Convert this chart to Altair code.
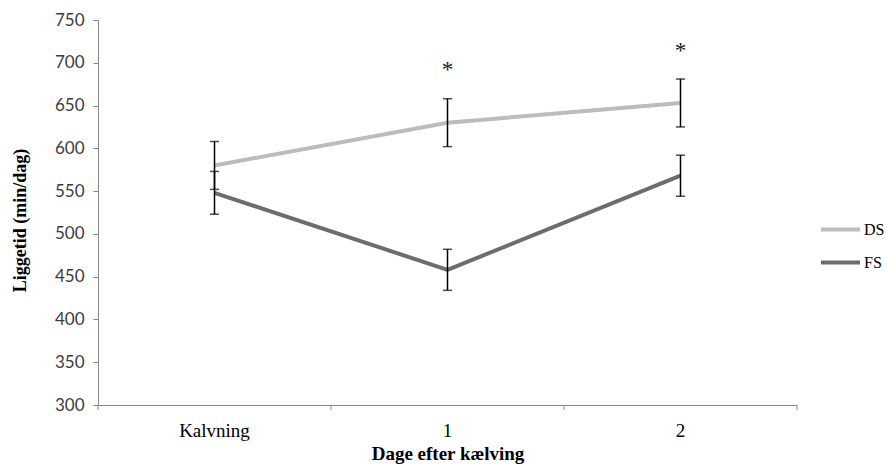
import altair as alt
import pandas as pd

# Mean lying time (min/day) with standard errors per group and day
dage = ["Kalvning", "1", "2"]
ds_mean = [580, 630, 653]
ds_se = [28, 28, 28]
fs_mean = [548, 458, 568]
fs_se = [25, 24, 24]

# Significance markers
stjerne_dag = ["1", "2"]
stjerne_y = [694, 716]

rows = []
for g, means, ses in (("DS", ds_mean, ds_se), ("FS", fs_mean, fs_se)):
    for d, m, s in zip(dage, means, ses):
        rows.append({"dag": d, "gruppe": g, "mean": m, "lo": m - s, "hi": m + s})
df = pd.DataFrame(rows)
stars = pd.DataFrame({"dag": stjerne_dag, "y": stjerne_y, "txt": ["*"] * len(stjerne_dag)})
ticks_left = pd.DataFrame({"dag": dage})
ticks_right = pd.DataFrame({"dag": [dage[-1]]})

AXIS_GREY = "#878787"
SERIF = "Liberation Serif"

x_enc = alt.X(
    "dag:N",
    sort=dage,
    scale=alt.Scale(domain=dage, paddingInner=0, paddingOuter=0),
    axis=alt.Axis(
        title="Dage efter kælving",
        labelAngle=0,
        labelAlign="center",
        ticks=False,
        domainColor=AXIS_GREY,
        labelFont=SERIF,
        labelFontSize=19,
        labelColor="#000000",
        labelPadding=25,
        titleFont=SERIF,
        titleFontSize=19,
        titleFontWeight="bold",
        titleColor="#000000",
        titlePadding=4,
    ),
)
y_scale = alt.Scale(domain=[300, 750], nice=False, zero=False)
y_enc = alt.Y(
    "mean:Q",
    scale=y_scale,
    axis=alt.Axis(
        title="Liggetid (min/dag)",
        values=list(range(300, 751, 50)),
        grid=False,
        domainColor=AXIS_GREY,
        tickColor=AXIS_GREY,
        tickSize=5,
        labelFont="Lato",
        labelFontSize=17,
        labelColor="#3c3c3c",
        labelPadding=9,
        titleFont=SERIF,
        titleFontSize=18,
        titleFontWeight="bold",
        titleColor="#000000",
        titlePadding=25,
        titleY=200,
    ),
)

lines = alt.Chart(df).mark_line(strokeWidth=4).encode(
    x=x_enc,
    y=y_enc,
    color=alt.Color(
        "gruppe:N",
        scale=alt.Scale(domain=["DS", "FS"], range=["#bcbcbc", "#6d6d6d"]),
        legend=alt.Legend(
            title=None,
            orient="none",
            legendX=721,
            legendY=188,
            symbolType="stroke",
            symbolSize=1521,
            symbolStrokeWidth=4,
            labelFont=SERIF,
            labelFontSize=16,
            labelColor="#000000",
            labelOffset=2,
            rowPadding=3,
            padding=0,
        ),
    ),
)

err = alt.Chart(df).mark_rule(color="#000000", strokeWidth=1.5).encode(
    x=alt.X("dag:N", sort=dage),
    y=alt.Y("lo:Q", scale=y_scale),
    y2="hi:Q",
)
cap_lo = alt.Chart(df).mark_tick(color="#000000", thickness=1.5, size=9, orient="horizontal").encode(
    x=alt.X("dag:N", sort=dage), y=alt.Y("lo:Q", scale=y_scale)
)
cap_hi = alt.Chart(df).mark_tick(color="#000000", thickness=1.5, size=9, orient="horizontal").encode(
    x=alt.X("dag:N", sort=dage), y=alt.Y("hi:Q", scale=y_scale)
)

# Category boundary ticks on the x axis
xt_left = alt.Chart(ticks_left).mark_rule(color=AXIS_GREY, strokeWidth=1).encode(
    x=alt.X("dag:N", sort=dage, bandPosition=0), y=alt.value(385), y2=alt.value(390)
)
xt_right = alt.Chart(ticks_right).mark_rule(color=AXIS_GREY, strokeWidth=1).encode(
    x=alt.X("dag:N", sort=dage, bandPosition=1), y=alt.value(385), y2=alt.value(390)
)

star_text = alt.Chart(stars).mark_text(font=SERIF, fontSize=23, color="#1a1a1a", baseline="middle", dy=2).encode(
    x=alt.X("dag:N", sort=dage), y=alt.Y("y:Q", scale=y_scale), text="txt:N"
)

chart = (
    alt.layer(xt_left, xt_right, lines, err, cap_lo, cap_hi, star_text)
    .properties(
        width=699,
        height=385,
        autosize=alt.AutoSizeParams(type="none"),
        padding={"left": 98, "top": 20, "right": 90, "bottom": 61},
        background="#ffffff",
    )
    .configure_view(stroke=None)
)

chart.save("out.html", embed_options={"renderer": "svg", "actions": False})
